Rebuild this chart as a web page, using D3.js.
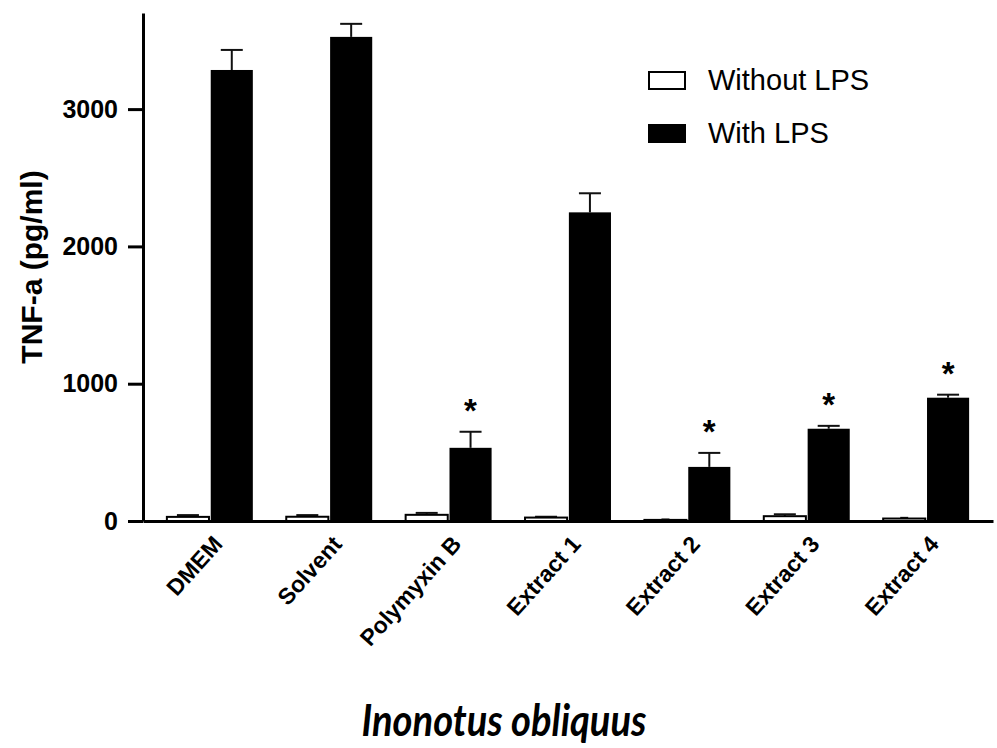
<!DOCTYPE html>
<html>
<head>
<meta charset="utf-8">
<script src="https://cdn.jsdelivr.net/npm/d3@7"></script>
<style>
  body { margin: 0; background: #fff; }
  svg { display: block; }
</style>
</head>
<body>
<svg width="997" height="748"></svg>
<script>
// values
const categories = ['DMEM', 'Solvent', 'Polymyxin B', 'Extract 1', 'Extract 2', 'Extract 3', 'Extract 4']
const withoutLPS = [30, 31, 45, 25, 8, 35, 18]
const withoutLPSErr = [13, 12, 14, 6, 3, 14, 5]
const withLPS = [3285, 3526, 533, 2248, 394, 672, 898]
const withLPSErr = [146, 95, 117, 139, 102, 21, 22]
const significant = [false, false, true, false, true, true, true]
const seriesNames = ['Without LPS', 'With LPS']
const yTicks = [0, 1000, 2000, 3000]

const svg = d3.select('svg')
const margin = { top: 13, left: 143, right: 4, bottom: 227 }
const width = +svg.attr('width'), height = +svg.attr('height')

const x = d3.scaleBand()
    .domain(categories)
    .range([margin.left, width - margin.right])
    .paddingInner(0.28)
    .paddingOuter(0.2)

const xSub = d3.scaleBand()
    .domain(seriesNames)
    .range([0, x.bandwidth()])
    .paddingInner(0.04)

const y = d3.scaleLinear()
    .domain([0, 3700])
    .range([height - margin.bottom, margin.top])

const rows = categories.map((c, i) => ({
    cat: c,
    vals: [
        { name: seriesNames[0], v: withoutLPS[i], e: withoutLPSErr[i] },
        { name: seriesNames[1], v: withLPS[i], e: withLPSErr[i] }
    ],
    sig: significant[i]
}))

const groups = svg.append('g').selectAll('g')
    .data(rows)
    .join('g')
    .attr('transform', d => `translate(${x(d.cat)},0)`)

// error bars (upper only), drawn first so the bar covers the stem
groups.selectAll('g.err')
    .data(d => d.vals)
    .join('g')
    .attr('class', 'err')
    .each(function (d) {
        const g = d3.select(this)
        const cx = xSub(d.name) + xSub.bandwidth() / 2
        const capW = d.v < 20 ? 8 : 22
        g.append('line')
            .attr('x1', cx).attr('x2', cx)
            .attr('y1', y(d.v)).attr('y2', y(d.v + d.e))
            .attr('stroke', '#111').attr('stroke-width', 2)
        g.append('line')
            .attr('x1', cx - capW / 2).attr('x2', cx + capW / 2)
            .attr('y1', y(d.v + d.e)).attr('y2', y(d.v + d.e))
            .attr('stroke', '#111').attr('stroke-width', 2)
    })

groups.selectAll('rect')
    .data(d => d.vals)
    .join('rect')
    .attr('x', d => xSub(d.name))
    .attr('width', xSub.bandwidth())
    .attr('y', d => y(d.v))
    .attr('height', d => y(0) - y(d.v))
    .attr('fill', d => d.name === seriesNames[1] ? '#000' : '#fff')
    .attr('stroke', '#000')
    .attr('stroke-width', d => d.name === seriesNames[1] ? 0 : 2)

// significance stars
groups.filter(d => d.sig)
    .append('text')
    .attr('x', xSub(seriesNames[1]) + xSub.bandwidth() / 2)
    .attr('y', d => y(d.vals[1].v + d.vals[1].e) - 10)
    .attr('text-anchor', 'middle')
    .attr('font-family', 'Liberation Sans, Arial, sans-serif')
    .attr('font-weight', 'bold')
    .attr('font-size', 33)
    .text('*')

// y axis
const yAxis = svg.append('g')
    .attr('transform', `translate(${margin.left},0)`)
    .call(d3.axisLeft(y).tickValues(yTicks).tickFormat(d3.format('d'))
        .tickSize(15).tickPadding(10).tickSizeOuter(0))
yAxis.select('.domain').attr('stroke', '#000').attr('stroke-width', 3)
yAxis.selectAll('.tick line').attr('stroke', '#000').attr('stroke-width', 3)
yAxis.selectAll('.tick text')
    .attr('font-family', 'Liberation Sans, Arial, sans-serif')
    .attr('font-weight', 'bold')
    .attr('font-size', 25)
    .attr('fill', '#000')

// x axis
const xAxis = svg.append('g')
    .attr('transform', `translate(0,${y(0)})`)
    .call(d3.axisBottom(x).tickSize(0).tickSizeOuter(0).tickPadding(0))
xAxis.select('.domain').attr('stroke', '#000').attr('stroke-width', 3)
xAxis.selectAll('.tick text')
    .attr('font-family', 'Liberation Sans, Arial, sans-serif')
    .attr('font-weight', 'bold')
    .attr('font-size', 23)
    .attr('fill', '#000')
    .attr('text-anchor', 'end')
    .attr('dy', 0)
    .attr('transform', 'translate(14,24) rotate(-48)')

// y label
svg.append('text')
    .attr('transform', `translate(42,${(y(0) + margin.top) / 2}) rotate(-90)`)
    .attr('text-anchor', 'middle')
    .attr('font-family', 'Liberation Sans, Arial, sans-serif')
    .attr('font-weight', 'bold')
    .attr('font-size', 30)
    .text('TNF-a (pg/ml)')

// x title
svg.append('text')
    .attr('x', 504)
    .attr('y', 736)
    .attr('text-anchor', 'middle')
    .attr('font-family', 'Lato, sans-serif')
    .attr('font-weight', 'bold')
    .attr('font-style', 'italic')
    .attr('font-size', 44)
    .attr('textLength', 285)
    .attr('lengthAdjust', 'spacingAndGlyphs')
    .text('Inonotus obliquus')

// legend
const legend = svg.append('g')
    .attr('transform', 'translate(648,0)')
    .selectAll('g')
    .data(seriesNames)
    .join('g')
    .attr('transform', (d, i) => `translate(0,${i * 53})`)
legend.append('rect')
    .attr('x', 1).attr('y', 72)
    .attr('width', 36).attr('height', 17)
    .attr('fill', (d, i) => i ? '#000' : '#fff')
    .attr('stroke', '#000').attr('stroke-width', 2)
legend.append('text')
    .attr('x', 60).attr('y', 90)
    .attr('font-family', 'Liberation Sans, Arial, sans-serif')
    .attr('font-size', 29)
    .text(d => d)
</script>
</body>
</html>
